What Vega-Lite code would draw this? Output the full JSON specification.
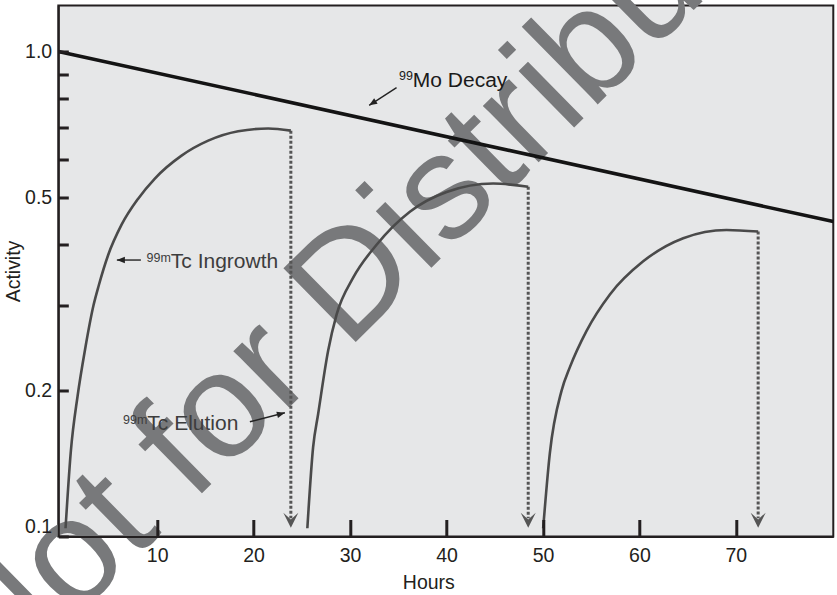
{
  "$schema": "https://vega.github.io/schema/vega-lite/v6.json",
  "width": 775,
  "height": 531,
  "autosize": {"type": "none"},
  "padding": {"left": 58.3, "top": 5.5, "right": 3.7, "bottom": 58.2},
  "background": "#ffffff",
  "config": {
    "font": "Liberation Sans",
    "view": {"fill": "#e6e7e8", "stroke": "#231f20", "strokeWidth": 2}
  },
  "datasets": {
    "watermark": [{"hours": 39.25, "activity": 0.372, "label": "Not for Distribution"}],
    "mo": [
      {"hours": -0.25, "activity": 1.0025},
      {"hours": 80.1, "activity": 0.4466}
    ],
    "tc": [
      {"cycle": 1, "hours": 0.50, "activity": 0.104},
      {"cycle": 1, "hours": 1.05, "activity": 0.150},
      {"cycle": 1, "hours": 1.75, "activity": 0.195},
      {"cycle": 1, "hours": 2.55, "activity": 0.245},
      {"cycle": 1, "hours": 3.40, "activity": 0.300},
      {"cycle": 1, "hours": 3.95, "activity": 0.330},
      {"cycle": 1, "hours": 4.92, "activity": 0.381},
      {"cycle": 1, "hours": 6.31, "activity": 0.440},
      {"cycle": 1, "hours": 8.03, "activity": 0.498},
      {"cycle": 1, "hours": 9.76, "activity": 0.548},
      {"cycle": 1, "hours": 12.53, "activity": 0.611},
      {"cycle": 1, "hours": 15.29, "activity": 0.656},
      {"cycle": 1, "hours": 18.40, "activity": 0.686},
      {"cycle": 1, "hours": 21.51, "activity": 0.695},
      {"cycle": 1, "hours": 23.86, "activity": 0.688},
      {"cycle": 2, "hours": 25.57, "activity": 0.104},
      {"cycle": 2, "hours": 26.17, "activity": 0.153},
      {"cycle": 2, "hours": 26.69, "activity": 0.179},
      {"cycle": 2, "hours": 27.73, "activity": 0.242},
      {"cycle": 2, "hours": 28.60, "activity": 0.287},
      {"cycle": 2, "hours": 30.32, "activity": 0.342},
      {"cycle": 2, "hours": 32.75, "activity": 0.400},
      {"cycle": 2, "hours": 36.20, "activity": 0.468},
      {"cycle": 2, "hours": 40.01, "activity": 0.514},
      {"cycle": 2, "hours": 44.84, "activity": 0.535},
      {"cycle": 2, "hours": 48.47, "activity": 0.527},
      {"cycle": 3, "hours": 50.02, "activity": 0.104},
      {"cycle": 3, "hours": 50.71, "activity": 0.1485},
      {"cycle": 3, "hours": 51.93, "activity": 0.200},
      {"cycle": 3, "hours": 52.79, "activity": 0.2236},
      {"cycle": 3, "hours": 54.52, "activity": 0.2657},
      {"cycle": 3, "hours": 56.94, "activity": 0.3159},
      {"cycle": 3, "hours": 60.39, "activity": 0.3697},
      {"cycle": 3, "hours": 64.54, "activity": 0.4127},
      {"cycle": 3, "hours": 69.03, "activity": 0.4292},
      {"cycle": 3, "hours": 72.31, "activity": 0.426}
    ],
    "elution": [
      {"hours": 23.86, "activity": 0.688, "activity2": 0.109},
      {"hours": 48.47, "activity": 0.527, "activity2": 0.109},
      {"hours": 72.31, "activity": 0.426, "activity2": 0.109}
    ],
    "tips": [
      {"hours": 23.86, "activity": 0.1043},
      {"hours": 48.47, "activity": 0.1043},
      {"hours": 72.31, "activity": 0.1043}
    ],
    "pointers": [
      {"name": "mo", "hours": 34.82, "activity": 0.844, "hours2": 31.98, "activity2": 0.776},
      {"name": "ingrowth", "hours": 8.31, "activity": 0.372, "hours2": 5.82, "activity2": 0.372},
      {"name": "elution", "hours": 19.61, "activity": 0.1725, "hours2": 23.24, "activity2": 0.18}
    ],
    "labels": [
      {"name": "mo", "hours": 36.51, "activity": 0.848, "text": "Mo Decay", "sup": "99"},
      {"name": "ingrowth", "hours": 11.42, "activity": 0.358, "text": "Tc Ingrowth", "sup": "99m"},
      {"name": "elution", "hours": 8.98, "activity": 0.1659, "text": "Tc Elution", "sup": "99m"}
    ]
  },
  "encoding": {
    "x": {
      "field": "hours",
      "type": "quantitative",
      "scale": {"domain": [-0.25, 80.1], "nice": false, "zero": false},
      "axis": {
        "title": "Hours",
        "values": [10, 20, 30, 40, 50, 60, 70],
        "format": "d",
        "grid": false,
        "tickSize": -17,
        "tickWidth": 3,
        "tickColor": "#231f20",
        "tickCap": "butt",
        "labelPadding": 27.5,
        "labelFontSize": 19.5,
        "labelColor": "#231f20",
        "labelFlush": false,
        "domainColor": "#231f20",
        "domainWidth": 2,
        "titleFontSize": 19.5,
        "titleFontWeight": "normal",
        "titleColor": "#231f20",
        "titleX": 370,
        "titleY": 52,
        "titleBaseline": "alphabetic",
        "zindex": 1
      }
    },
    "y": {
      "field": "activity",
      "type": "quantitative",
      "scale": {"type": "log", "domain": [0.1, 1.247], "nice": false},
      "axis": {
        "title": "Activity",
        "values": [0.1, 0.2, 0.3, 0.4, 0.5, 0.6, 0.7, 0.8, 0.9, 1],
        "labelExpr": "(datum.value == 0.1 || datum.value == 0.2 || datum.value == 0.5 || datum.value == 1) ? format(datum.value, '.1f') : ''",
        "grid": false,
        "tickSize": -10,
        "tickWidth": 3,
        "tickColor": "#231f20",
        "tickCap": "butt",
        "labelPadding": 16.6,
        "labelFontSize": 19.5,
        "labelColor": "#231f20",
        "labelFlush": true,
        "domainColor": "#231f20",
        "domainWidth": 2,
        "titleFontSize": 19.5,
        "titleFontWeight": "normal",
        "titleColor": "#231f20",
        "titleX": -39,
        "titleBaseline": "alphabetic",
        "zindex": 1
      }
    }
  },
  "layer": [
    {
      "data": {"name": "watermark"},
      "mark": {"type": "text", "angle": 315.5, "fontSize": 150, "align": "center", "baseline": "alphabetic", "color": "#78797b"},
      "encoding": {"text": {"field": "label"}}
    },
    {
      "data": {"name": "elution"},
      "mark": {"type": "rule", "color": "#555555", "strokeWidth": 3, "strokeDash": [3, 2]},
      "encoding": {"y2": {"field": "activity2"}}
    },
    {
      "data": {"name": "tips"},
      "mark": {"type": "point", "shape": "M0,0L-0.5,-1L0,-0.55L0.5,-1Z", "size": 900, "filled": true, "color": "#555555", "opacity": 1}
    },
    {
      "data": {"name": "tc"},
      "mark": {"type": "line", "color": "#4a4a4a", "strokeWidth": 2.6, "interpolate": "monotone"},
      "encoding": {"detail": {"field": "cycle"}}
    },
    {
      "data": {"name": "mo"},
      "mark": {"type": "line", "color": "#141414", "strokeWidth": 3.5},
      "encoding": {}
    },
    {
      "data": {"name": "pointers"},
      "mark": {"type": "rule", "color": "#222222", "strokeWidth": 1.4},
      "encoding": {"x2": {"field": "hours2"}, "y2": {"field": "activity2"}}
    },
    {
      "data": {"name": "pointers"},
      "transform": [{"filter": "datum.name == 'mo'"}],
      "mark": {"type": "point", "shape": "M0,0L0.4,1L-0.4,1Z", "size": 256, "filled": true, "color": "#222222", "opacity": 1, "angle": 237},
      "encoding": {"x": {"field": "hours2", "type": "quantitative"}, "y": {"field": "activity2", "type": "quantitative"}}
    },
    {
      "data": {"name": "pointers"},
      "transform": [{"filter": "datum.name == 'ingrowth'"}],
      "mark": {"type": "point", "shape": "M0,0L0.4,1L-0.4,1Z", "size": 256, "filled": true, "color": "#222222", "opacity": 1, "angle": 270},
      "encoding": {"x": {"field": "hours2", "type": "quantitative"}, "y": {"field": "activity2", "type": "quantitative"}}
    },
    {
      "data": {"name": "pointers"},
      "transform": [{"filter": "datum.name == 'elution'"}],
      "mark": {"type": "point", "shape": "M0,0L0.4,1L-0.4,1Z", "size": 256, "filled": true, "color": "#222222", "opacity": 1, "angle": 75.6},
      "encoding": {"x": {"field": "hours2", "type": "quantitative"}, "y": {"field": "activity2", "type": "quantitative"}}
    },
    {
      "data": {"name": "labels"},
      "transform": [{"filter": "datum.name == 'mo'"}],
      "mark": {"type": "text", "align": "left", "baseline": "alphabetic", "fontSize": 21, "color": "#1a1a1a"},
      "encoding": {"text": {"field": "text"}}
    },
    {
      "data": {"name": "labels"},
      "transform": [{"filter": "datum.name == 'mo'"}],
      "mark": {"type": "text", "align": "right", "baseline": "alphabetic", "fontSize": 12.5, "dy": -7, "color": "#1a1a1a"},
      "encoding": {"text": {"field": "sup"}}
    },
    {
      "data": {"name": "labels"},
      "transform": [{"filter": "datum.name != 'mo'"}],
      "mark": {"type": "text", "align": "left", "baseline": "alphabetic", "fontSize": 21, "color": "#3d3d3d"},
      "encoding": {"text": {"field": "text"}}
    },
    {
      "data": {"name": "labels"},
      "transform": [{"filter": "datum.name != 'mo'"}],
      "mark": {"type": "text", "align": "right", "baseline": "alphabetic", "fontSize": 12.5, "dy": -6, "color": "#3d3d3d"},
      "encoding": {"text": {"field": "sup"}}
    }
  ]
}
